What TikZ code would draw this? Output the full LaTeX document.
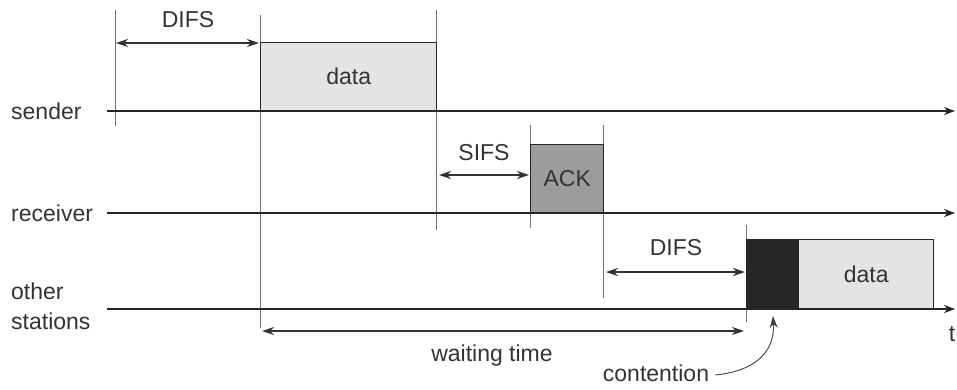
\documentclass[tikz,border=0pt]{standalone}
\usepackage{fontspec}
\setmainfont{Liberation Sans}
\usetikzlibrary{arrows.meta}
\definecolor{txt}{HTML}{333333}
\definecolor{lightfill}{HTML}{E4E4E4}
\definecolor{ackfill}{HTML}{9C9C9C}
\definecolor{contfill}{HTML}{262626}
\begin{document}
\begin{tikzpicture}[x=1pt,y=-1pt,
  lbl/.style={font=\fontsize{23}{26}\selectfont, text=txt, inner sep=0pt},
  axisline/.style={line width=1.5pt, draw=black!85, -{Stealth[length=11pt,width=8pt]}},
  tick/.style={line width=0.8pt, draw=black!55},
  span/.style={line width=1.2pt, draw=black!80, {Stealth[length=12pt,width=8pt]}-{Stealth[length=12pt,width=8pt]}},
  frame/.style={draw=black!85, line width=1.4pt, anchor=south west, inner sep=0pt, text=txt, font=\fontsize{23}{26}\selectfont}
]
\useasboundingbox (0,0) rectangle (957,389);

% station labels
\node[lbl, anchor=west] (snd) at (11,111) {sender};
\node[lbl, anchor=west] (rcv) at (11,213) {receiver};
\node[lbl, anchor=west, align=left] (oth) at (11,306) {other\\[4pt]stations};

% time axes
\coordinate (s0) at (107,111); \coordinate (s1) at (955,111);
\coordinate (r0) at (107,213); \coordinate (r1) at (955,213);
\coordinate (o0) at (107,309); \coordinate (o1) at (955,309);

% tick lines
\coordinate (v1a) at (115,10);  \coordinate (v1b) at (115,126);
\coordinate (v2a) at (260,15);  \coordinate (v2b) at (260,328);
\coordinate (v3a) at (436,10);  \coordinate (v3b) at (436,230);
\coordinate (v4a) at (530,125); \coordinate (v4b) at (530,228);
\coordinate (v5a) at (603,125); \coordinate (v5b) at (603,298);
\coordinate (v6a) at (746,225); \coordinate (v6b) at (746,322);
\draw[tick] (v1a) -- (v1b);
\draw[tick] (v2a) -- (v2b);
\draw[tick] (v3a) -- (v3b);
\draw[tick] (v4a) -- (v4b);
\draw[tick] (v5a) -- (v5b);
\draw[tick] (v6a) -- (v6b);

% frames
\node[frame, fill=lightfill, minimum width=176pt, minimum height=68pt] (data1) at (260,111) {data};
\node[frame, fill=ackfill, minimum width=73pt, minimum height=68pt] (ack) at (530,213) {ACK};
\node[frame, fill=contfill, minimum width=52pt, minimum height=69pt] (cont) at (746,309) {};
\node[frame, fill=lightfill, minimum width=135pt, minimum height=69pt] (data2) at (798,309) {data};

\draw[axisline] (s0) -- (s1);
\draw[axisline] (r0) -- (r1);
\draw[axisline] (o0) -- (o1);
\node[lbl] (t) at (952,334) {t};

% interval arrows
\coordinate (d1a) at (116,43); \coordinate (d1b) at (259,43);
\draw[span] (d1a) -- (d1b);
\node[lbl] (difs1) at (188,20) {DIFS};

\coordinate (sfa) at (439,175); \coordinate (sfb) at (529,175);
\draw[span] (sfa) -- (sfb);
\node[lbl] (sifs) at (484,153) {SIFS};

\coordinate (d2a) at (606,272); \coordinate (d2b) at (745,272);
\draw[span] (d2a) -- (d2b);
\node[lbl] (difs2) at (676,248) {DIFS};

\coordinate (wa) at (262,331); \coordinate (wb) at (744,331);
\draw[span] (wa) -- (wb);
\node[lbl] (wait) at (492,356) {waiting time};

% contention label
\node[lbl] (contl) at (656,373) {contention};
\coordinate (ctip) at (773,316);
\draw[line width=0.9pt, draw=black!75, -{Stealth[length=12pt,width=8pt]}]
  ([xshift=6pt,yshift=-2pt]contl.east) .. controls (755,371) and (775,352) .. (ctip);
\end{tikzpicture}
\end{document}
